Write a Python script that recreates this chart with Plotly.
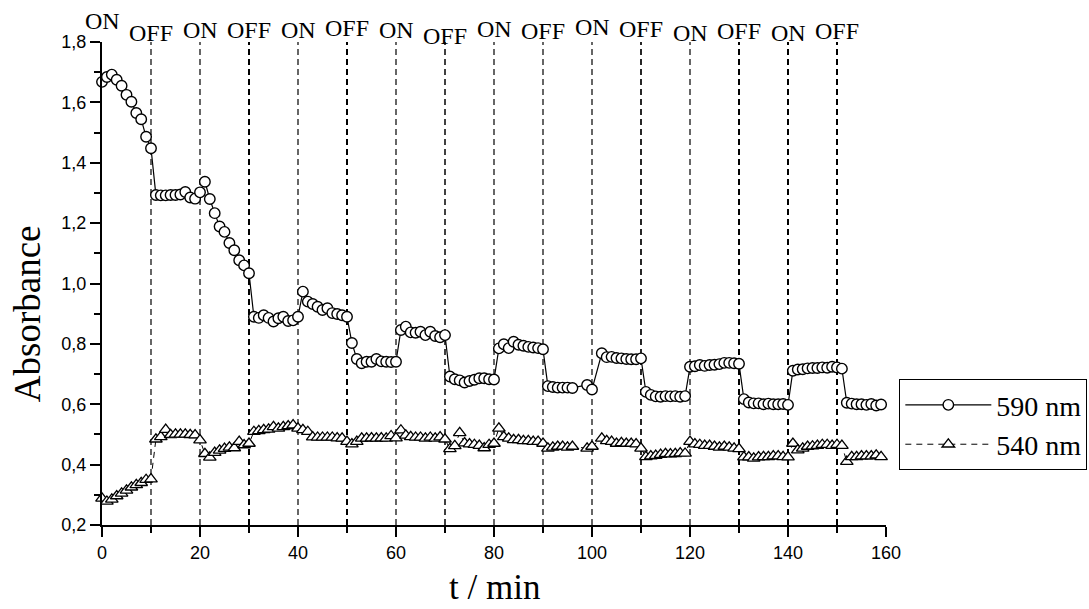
import plotly.graph_objects as go

# ---------------- data ----------------
t_min = [0, 1, 2, 3, 4, 5, 6, 7, 8, 9, 10, 11, 12, 13, 14, 15, 16, 17, 18, 19,
         20, 21, 22, 23, 24, 25, 26, 27, 28, 29, 30, 31, 32, 33, 34, 35, 36, 37, 38, 39,
         40, 41, 42, 43, 44, 45, 46, 47, 48, 49, 50, 51, 52, 53, 54, 55, 56, 57, 58, 59,
         60, 61, 62, 63, 64, 65, 66, 67, 68, 69, 70, 71, 72, 73, 74, 75, 76, 77, 78, 79,
         80, 81, 82, 83, 84, 85, 86, 87, 88, 89, 90, 91, 92, 93, 94, 95, 96, 99,
         100, 102, 103, 104, 105, 106, 107, 108, 109, 110, 111, 112, 113, 114, 115, 116, 117, 118, 119,
         120, 121, 122, 123, 124, 125, 126, 127, 128, 129, 130, 131, 132, 133, 134, 135, 136, 137, 138, 139,
         140, 141, 142, 143, 144, 145, 146, 147, 148, 149, 150, 151, 152, 153, 154, 155, 156, 157, 158, 159]

abs_590 = [1.668, 1.684, 1.692, 1.675, 1.655, 1.625, 1.602, 1.565, 1.544, 1.486,
           1.448, 1.293, 1.292, 1.292, 1.293, 1.293, 1.295, 1.303, 1.285, 1.281,
           1.302, 1.337, 1.280, 1.233, 1.189, 1.171, 1.134, 1.110, 1.077, 1.060,
           1.034, 0.890, 0.886, 0.895, 0.886, 0.874, 0.885, 0.890, 0.876, 0.878,
           0.890, 0.973, 0.940, 0.932, 0.923, 0.912, 0.918, 0.902, 0.899, 0.895,
           0.890, 0.803, 0.750, 0.736, 0.741, 0.741, 0.750, 0.742, 0.741, 0.740,
           0.741, 0.846, 0.857, 0.838, 0.837, 0.840, 0.829, 0.840, 0.826, 0.822,
           0.829, 0.692, 0.683, 0.679, 0.672, 0.677, 0.681, 0.686, 0.686, 0.683,
           0.682, 0.785, 0.799, 0.786, 0.807, 0.797, 0.794, 0.790, 0.788, 0.786,
           0.782, 0.660, 0.657, 0.655, 0.655, 0.655, 0.654, 0.664,
           0.649, 0.769, 0.756, 0.757, 0.753, 0.752, 0.750, 0.749, 0.749,
           0.752, 0.641, 0.631, 0.626, 0.625, 0.627, 0.626, 0.627, 0.625, 0.627,
           0.724, 0.726, 0.730, 0.727, 0.730, 0.731, 0.733, 0.737, 0.737, 0.736,
           0.734, 0.617, 0.606, 0.603, 0.603, 0.600, 0.602, 0.600, 0.600, 0.601,
           0.598, 0.711, 0.715, 0.716, 0.719, 0.720, 0.720, 0.722, 0.721, 0.724,
           0.722, 0.718, 0.605, 0.602, 0.600, 0.600, 0.598, 0.601, 0.596, 0.599]

abs_540 = [0.288, 0.278, 0.285, 0.296, 0.305, 0.315, 0.325, 0.333, 0.340, 0.350,
           0.352, 0.484, 0.492, 0.516, 0.499, 0.500, 0.500, 0.500, 0.499, 0.498,
           0.481, 0.436, 0.424, 0.440, 0.447, 0.453, 0.457, 0.455, 0.476, 0.465,
           0.470, 0.509, 0.512, 0.515, 0.517, 0.525, 0.520, 0.525, 0.528, 0.531,
           0.520, 0.515, 0.509, 0.491, 0.490, 0.490, 0.490, 0.490, 0.488, 0.487,
           0.476, 0.468, 0.476, 0.487, 0.487, 0.488, 0.487, 0.488, 0.487, 0.495,
           0.488, 0.514, 0.497, 0.492, 0.490, 0.490, 0.487, 0.490, 0.487, 0.491,
           0.484, 0.452, 0.462, 0.505, 0.471, 0.468, 0.466, 0.463, 0.455, 0.466,
           0.470, 0.520, 0.492, 0.487, 0.482, 0.482, 0.479, 0.479, 0.476, 0.476,
           0.470, 0.454, 0.457, 0.460, 0.460, 0.457, 0.460, 0.454,
           0.460, 0.487, 0.479, 0.476, 0.470, 0.472, 0.470, 0.470, 0.468,
           0.454, 0.426, 0.428, 0.430, 0.433, 0.436, 0.435, 0.436, 0.438, 0.437,
           0.476, 0.468, 0.466, 0.463, 0.463, 0.460, 0.457, 0.460, 0.457, 0.454,
           0.452, 0.425, 0.425, 0.421, 0.425, 0.426, 0.426, 0.428, 0.428, 0.426,
           0.425, 0.470, 0.448, 0.454, 0.460, 0.461, 0.463, 0.466, 0.466, 0.463,
           0.466, 0.463, 0.410, 0.426, 0.426, 0.428, 0.428, 0.428, 0.431, 0.426]

switch_times = [10, 20, 30, 40, 50, 60, 70, 80, 90, 100, 110, 120, 130, 140, 150]
label_times = [0, 10, 20, 30, 40, 50, 60, 70, 80, 90, 100, 110, 120, 130, 140, 150]
label_texts = ["ON", "OFF", "ON", "OFF", "ON", "OFF", "ON", "OFF",
               "ON", "OFF", "ON", "OFF", "ON", "OFF", "ON", "OFF"]

x_ticks = [0, 20, 40, 60, 80, 100, 120, 140, 160]
y_ticks = [0.2, 0.4, 0.6, 0.8, 1.0, 1.2, 1.4, 1.6, 1.8]

# ---------------- styles ----------------
switch_widths = [1.2, 1.2, 2, 1.2, 2, 1.2, 1.5, 1.2, 1.2, 1.2, 1.7, 1.2, 2, 2, 2]
label_shift = [21, 9, 12, 12, 12, 14, 12, 6, 13, 11, 15, 13, 9, 11, 9, 11]

SERIF = "Liberation Serif, Times New Roman, serif"
SANS = "Liberation Sans, Arial, sans-serif"

fig = go.Figure()

fig.add_trace(go.Scatter(
    x=t_min, y=abs_590, name="590 nm", mode="lines+markers",
    line=dict(color="black", width=1.2),
    marker=dict(symbol="circle", size=10.5, color="white",
                line=dict(color="black", width=1.4)),
    cliponaxis=False,
))
fig.add_trace(go.Scatter(
    x=t_min, y=abs_540, name="540 nm", mode="lines+markers",
    line=dict(color="black", width=1, dash="6px,5px"),
    marker=dict(symbol="triangle-up", size=11, color="white",
                line=dict(color="black", width=1.3)),
    cliponaxis=False,
))

for xv, w in zip(switch_times, switch_widths):
    fig.add_shape(type="line", xref="x", yref="y", x0=xv, x1=xv, y0=0.2, y1=1.8,
                  line=dict(color="black", width=w, dash="6px,4px"), layer="below")

for xv, txt, sh in zip(label_times, label_texts, label_shift):
    fig.add_annotation(x=xv, xref="x", y=1, yref="paper", text=txt, showarrow=False,
                       yanchor="middle", yshift=sh,
                       font=dict(family=SERIF, size=24, color="black"))

fig.add_annotation(text="Absorbance", textangle=-90, showarrow=False,
                   xref="paper", yref="paper", x=-0.094, y=0.437,
                   xanchor="center", yanchor="middle",
                   font=dict(family=SERIF, size=37, color="black"))
fig.add_annotation(text="t / min", showarrow=False,
                   xref="paper", yref="paper", x=0.5, y=-0.129,
                   xanchor="center", yanchor="middle",
                   font=dict(family=SERIF, size=35, color="black"))

fig.update_layout(
    width=1089, height=609, autosize=False,
    margin=dict(l=102, r=203, t=42, b=84, autoexpand=False),
    paper_bgcolor="white", plot_bgcolor="white",
    separators=",.",
    showlegend=True,
    legend=dict(x=1.017, y=0.302, xanchor="left", yanchor="top",
                bordercolor="black", borderwidth=1, bgcolor="white",
                font=dict(family=SERIF, size=28, color="black"),
                itemwidth=86, tracegroupgap=0),
    xaxis=dict(range=[0, 160], tickvals=x_ticks, showgrid=False, zeroline=False,
               showline=True, linecolor="black", linewidth=2,
               ticks="outside", ticklen=10, tickwidth=2, tickcolor="black",
               tickfont=dict(family=SANS, size=18, color="black"),
               minor=dict(dtick=10, ticks="outside", ticklen=6, tickwidth=2, tickcolor="black")),
    yaxis=dict(range=[0.2, 1.8], tickvals=y_ticks, tickformat=".1f", showgrid=False,
               zeroline=False, showline=True, linecolor="black", linewidth=2,
               ticks="outside", ticklen=10, tickwidth=2, tickcolor="black",
               tickfont=dict(family=SANS, size=18, color="black"),
               minor=dict(dtick=0.1, ticks="outside", ticklen=6, tickwidth=2, tickcolor="black")),
)

# remove the default 8px page margin so the figure fills the window exactly
fig.write_html("out.html", config={"displayModeBar": False},
               post_script="document.body.style.margin='0px';")
